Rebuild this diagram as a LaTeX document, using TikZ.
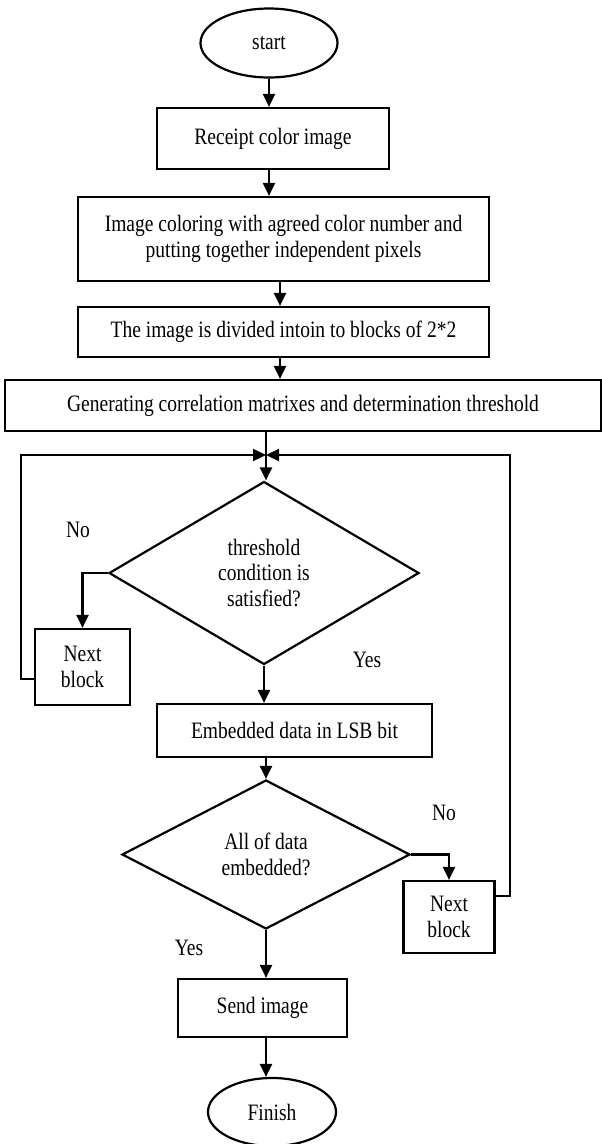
\documentclass[tikz,border=0pt]{standalone}
\usepackage{fontspec}
\setmainfont{Liberation Serif}[FakeStretch=0.83]
\usetikzlibrary{shapes.geometric,arrows.meta}
\begin{document}
\begin{tikzpicture}[x=1pt,y=-1pt,
  every node/.style={font=\fontsize{23.5}{25.5}\selectfont, inner sep=0pt},
  box/.style={draw, rectangle, line width=2.2pt, align=center},
  oval/.style={draw, ellipse, line width=2.2pt},
  dia/.style={draw, diamond, line width=2.2pt, align=center},
  conn/.style={line width=2.2pt},
  arr/.style={conn, -{Triangle[width=12pt,length=13pt]}}]
\useasboundingbox (0,0) rectangle (602,1144);
\node[oval, minimum width=137pt, minimum height=69pt] (start) at (269,43) {start};
\node[box, minimum width=232pt, minimum height=61pt] (receipt) at (273,138.5) {Receipt color image};
\node[box, minimum width=411pt, minimum height=84pt] (coloring) at (283.5,239) {Image coloring with agreed color number and\\putting together independent pixels};
\node[box, minimum width=411pt, minimum height=50pt] (divided) at (283.5,332) {The image is divided intoin to blocks of 2*2};
\node[box, minimum width=596pt, minimum height=51pt] (generating) at (303,405.5) {Generating correlation matrixes and determination threshold};
\node[dia, minimum width=310pt, minimum height=183pt] (d1) at (264,573) {threshold\\condition is\\satisfied?};
\node[box, minimum width=95pt, minimum height=76pt] (next1) at (82.5,667) {Next\\block};
\node[box, minimum width=275pt, minimum height=53pt] (embedded) at (294.5,730.5) {Embedded data in LSB bit};
\node[dia, minimum width=288pt, minimum height=149pt] (d2) at (266,854.5) {All of data\\embedded?};
\node[box, minimum width=91pt, minimum height=72pt] (next2) at (449,917) {Next\\block};
\node[box, minimum width=169pt, minimum height=58pt] (send) at (262.5,1008) {Send image};
\node[oval, minimum width=128pt, minimum height=68pt] (finish) at (272,1112) {Finish};

\node (no1) at (78,530) {No};
\node (yes1) at (367,660) {Yes};
\node (no2) at (444,813) {No};
\node (yes2) at (189,948) {Yes};

\coordinate (j) at (266,455);
\coordinate (lc) at (21,455);
\coordinate (rc) at (510,455);

\draw[arr] (start.south) -- (start.south |- receipt.north);
\draw[arr] (receipt.south -| start.south) -- (start.south |- coloring.north);
\draw[arr] (coloring.south -| 280,0) -- (280,0 |- divided.north);
\draw[arr] (divided.south -| 280,0) -- (280,0 |- generating.north);
\draw[arr] (generating.south -| j) -- (d1.north -| j);
\draw[arr] ([yshift=-12pt]next1.west) -| (lc) -- (j);
\draw[arr] ([yshift=21pt]next2.east) -| (rc) -- (j);
\draw[arr] (d1.west) -| (next1.north);
\draw[arr] (d1.south) -- (d1.south |- embedded.north);
\draw[arr] (embedded.south -| d2.north) -- (d2.north);
\draw[arr] (d2.east) -| (next2.north);
\draw[arr] (d2.south) -- (d2.south |- send.north);
\draw[arr] (send.south -| d2.south) -- (d2.south |- finish.north);
\end{tikzpicture}
\end{document}
